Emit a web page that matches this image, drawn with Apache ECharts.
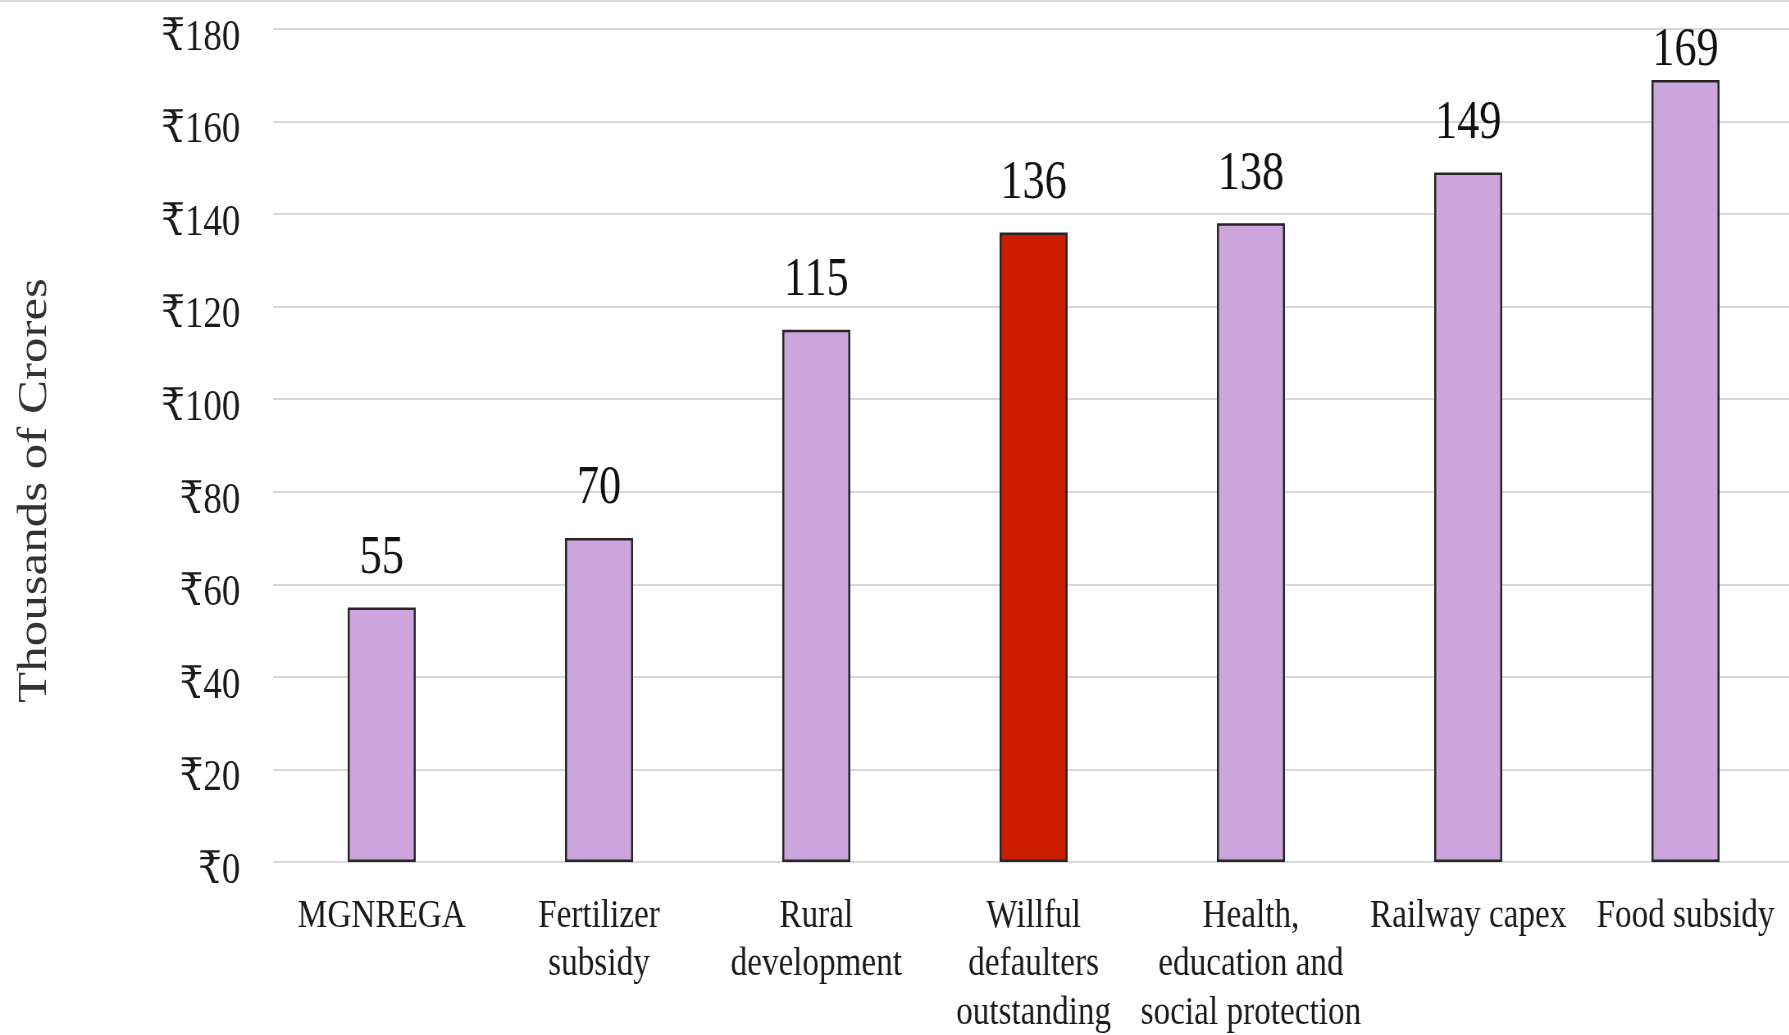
<!DOCTYPE html>
<html>
<head>
<meta charset="utf-8">
<title>Spending vs wilful defaulters</title>
<script src="https://cdn.jsdelivr.net/npm/echarts@6/dist/echarts.min.js"></script>
<style>
  html, body { margin: 0; padding: 0; background: #ffffff; overflow: hidden; }
  #frame { position: relative; width: 1789px; height: 1035px; overflow: hidden; border-top: 2px solid #dcdcdc; box-sizing: border-box; }
  /* the chart is drawn wide and compressed horizontally, giving condensed serif type */
  #chart { position: absolute; left: 0; top: -2px; width: 2182px; height: 1035px; transform: scaleX(0.82); transform-origin: 0 0; }
</style>
</head>
<body>
<div id="frame"><div id="chart"></div></div>
<script>
// Allocation categories (line breaks as printed under the axis)
const categories = [
  'MGNREGA',
  'Fertilizer\nsubsidy',
  'Rural\ndevelopment',
  'Willful\ndefaulters\noutstanding',
  'Health,\neducation and\nsocial protection',
  'Railway capex',
  'Food subsidy'
];
// Amounts, thousands of crores of rupees
const amounts = [55, 70, 115, 136, 138, 149, 169];
// Which bar is highlighted
const highlightIndex = 3;
// Value axis ticks
const yTicks = { min: 0, max: 180, step: 20 };

const serif = "'Liberation Serif', 'Times New Roman', 'DejaVu Serif', serif";
const fillNormal = '#CBA5DB';
const fillHighlight = '#CC1C00';

const chart = echarts.init(document.getElementById('chart'));

const barData = amounts.map((v, i) => ({
  value: v,
  itemStyle: { color: i === highlightIndex ? fillHighlight : fillNormal },
  // the tallest label is tucked under the top of the plot
  label: { distance: v > yTicks.max - 15 ? 2 : 22 }
}));

chart.setOption({
  animation: false,
  backgroundColor: '#ffffff',
  grid: { left: 333, top: 29, width: 1855, height: 833, outerBoundsMode: 'none', containLabel: false },
  xAxis: {
    type: 'category',
    data: categories,
    axisLine: { show: false },
    axisTick: { show: false },
    axisLabel: {
      interval: 0,
      margin: 30,
      color: '#1a1a1a',
      fontFamily: serif,
      fontSize: 40.5,
      lineHeight: 48.5
    }
  },
  yAxis: {
    type: 'value',
    min: yTicks.min,
    max: yTicks.max,
    interval: yTicks.step,
    name: 'Thousands of Crores',
    nameLocation: 'middle',
    nameGap: 265,
    nameTextStyle: {
      color: '#333333',
      fontFamily: serif,
      fontSize: 51,
      padding: [0, 90, 0, 0]
    },
    axisLine: { show: false },
    axisTick: { show: false },
    axisLabel: {
      margin: 40,
      color: '#1a1a1a',
      fontFamily: serif,
      fontSize: 45,
      verticalAlign: 'top',
      lineHeight: 18,
      formatter: v => '₹' + v
    },
    splitLine: { show: true, lineStyle: { color: '#d9d9d9', width: 2 } }
  },
  series: [{
    type: 'bar',
    data: barData,
    barWidth: 83,
    itemStyle: { borderColor: '#262626', borderWidth: 2.5 },
    label: {
      show: true,
      position: 'top',
      color: '#111111',
      fontFamily: serif,
      fontSize: 54
    }
  }]
});
</script>
</body>
</html>
